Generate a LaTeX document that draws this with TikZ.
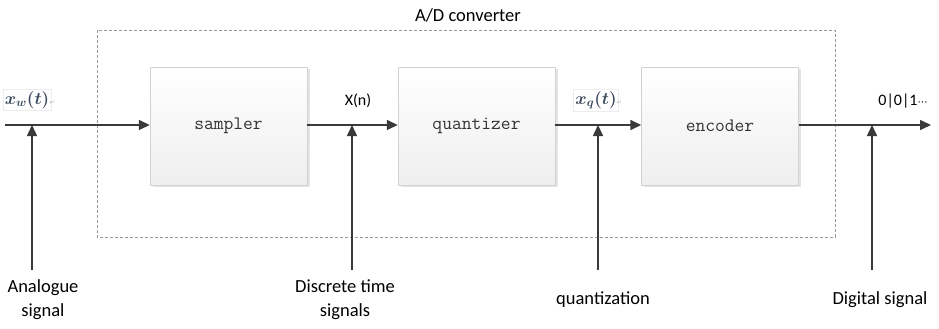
\documentclass[tikz,border=0pt]{standalone}
\usepackage{fontspec}
\setmainfont{Carlito}
\newfontfamily\symfont{DejaVu Sans}
\usetikzlibrary{arrows.meta,shadows}
\usepackage{amsmath,bm}
\definecolor{linegray}{HTML}{3A3A3A}
\definecolor{mathblue}{HTML}{3B4A5C}
\tikzset{
  blockbox/.style={draw=gray!35, top color=white, bottom color=gray!13,
    minimum width=157pt, minimum height=118pt, inner sep=0pt,
    font=\ttfamily\fontsize{19}{19}\selectfont, text=black!80,
    drop shadow={shadow xshift=2.5pt, shadow yshift=-1.5pt, fill=gray!35, opacity=0.6}},
  sig/.style={draw=linegray, line width=1.5pt, -{Triangle[length=11pt,width=10pt]}},
  siglabel/.style={font=\fontsize{18.5}{24}\selectfont, align=center, text=black},
  smalllabel/.style={font=\fontsize{16}{16}\selectfont, text=black},
  mathlabel/.style={draw=gray!15, fill=white, inner sep=2pt, text=mathblue, font=\fontsize{17}{17}\selectfont},
  retmark/.style={font=\symfont\fontsize{6}{6}\selectfont, text=gray!60}
}
\begin{document}
\begin{tikzpicture}[x=1pt,y=-1pt]
  \useasboundingbox (0,0) rectangle (939,329);

  % converter frame
  \draw[gray!80, dashed, dash pattern=on 3pt off 2pt, line width=0.6pt] (97,30) rectangle (835,237);
  \node[siglabel] (adc) at (468,15) {A/D converter};

  % processing blocks
  \node[blockbox] (sampler)   at (228.5,126) {sampler};
  \node[blockbox] (quantizer) at (476.5,126) {quantizer};
  \node[blockbox] (encoder)   at (720,126)   {encoder};

  % signal path
  \coordinate (in) at (5,125);
  \coordinate (out) at (931,125);
  \draw[sig] (in) -- (sampler.west |- in);
  \draw[sig] (sampler.east |- in) -- (quantizer.west |- in);
  \draw[sig] (quantizer.east |- in) -- (encoder.west |- in);
  \draw[sig] (encoder.east |- in) -- (out);

  % signal names on the path
  \node[mathlabel] (xw) at (27,100) {$\bm{x_w(t)}$};
  \node[retmark, anchor=west, inner sep=0pt] (xwr) at ([xshift=-2pt,yshift=-3pt]xw.east) {↵};
  \node[smalllabel] (xn) at (358,101) {X(n)};
  \node[mathlabel] (xq) at (596,100) {$\bm{x_q(t)}$};
  \node[retmark, anchor=west, inner sep=0pt] (xqr) at ([xshift=-2pt,yshift=-3pt]xq.east) {↵};
  \node[smalllabel] (dig) at (903,101) {0|0|1\symfont\fontsize{10}{10}\selectfont ⋯};

  % descriptions with pointers
  \node[siglabel] (ana)  at (43,300)  {Analogue\\signal};
  \node[siglabel] (disc) at (345,300) {Discrete time\\signals};
  \node[siglabel] (quan) at (603,300) {quantization};
  \node[siglabel] (digs) at (880,300) {Digital signal};

  \coordinate (pa) at (32,270);
  \coordinate (pd) at (352,270);
  \coordinate (pq) at (598,270);
  \coordinate (pg) at (872,270);
  \draw[sig] (pa) -- (pa |- in);
  \draw[sig] (pd) -- (pd |- in);
  \draw[sig] (pq) -- (pq |- in);
  \draw[sig] (pg) -- (pg |- in);
\end{tikzpicture}
\end{document}
